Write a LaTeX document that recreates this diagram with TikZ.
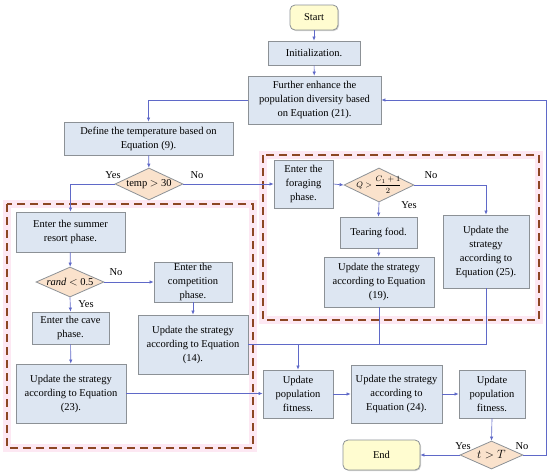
\documentclass[tikz,border=0pt]{standalone}
\usepackage{fontspec}
\setmainfont{Liberation Serif}
\usetikzlibrary{shapes.geometric,arrows.meta,shadows}
\definecolor{boxfill}{RGB}{221,230,242}
\definecolor{boxdraw}{RGB}{140,145,150}
\definecolor{dmfill}{RGB}{250,226,204}
\definecolor{termfill}{RGB}{255,252,208}
\definecolor{arr}{RGB}{95,105,200}
\definecolor{dashcol}{RGB}{140,70,35}
\definecolor{glow}{RGB}{253,232,243}
\tikzset{
  x=1pt,y=-1pt,
  every node/.style={font=\fontsize{10.5}{14}\selectfont},
  pbox/.style={draw=boxdraw,fill=boxfill,line width=0.8pt,align=center,inner sep=1pt,
    drop shadow={shadow xshift=1pt,shadow yshift=-1pt,opacity=0.35,fill=gray}},
  term/.style={pbox,fill=termfill,rounded corners=5pt},
  dm/.style={shape=diamond,draw=boxdraw,fill=dmfill,line width=0.8pt,inner sep=0pt,aspect=2},
  conn/.style={draw=arr,line width=0.65pt,-{Latex[length=4pt,width=3.5pt]}},
  line/.style={draw=arr,line width=0.65pt},
  lab/.style={font=\fontsize{10.5}{12}\selectfont,inner sep=0pt},
  dashbox/.style={draw=dashcol,line width=1.5pt,dash pattern=on 8pt off 5pt},
  glowbox/.style={draw=glow,line width=8pt},
}
\begin{document}
\begin{tikzpicture}
\useasboundingbox (0,0) rectangle (550,475);
% group frames
\draw[glowbox] (7,204) rectangle (253,448);
\draw[glowbox] (263,155) rectangle (539,320);
\draw[dashbox] (7,204) rectangle (253,448);
\draw[dashbox] (263,155) rectangle (539,320);

\node[term,minimum width=48,minimum height=25] (start) at (314,17.5) {Start};
\node[pbox,minimum width=92,minimum height=24] (init) at (314,53) {Initialization.};
\node[pbox,minimum width=133,minimum height=48] (enh) at (314.5,100) {Further enhance the\\population diversity based\\on Equation (21).};
\node[pbox,minimum width=169,minimum height=33] (deft) at (148.5,138.5) {Define the temperature based on\\Equation (9).};
\node[dm,minimum width=68,minimum height=32,label={center:temp $>$ 30}] (temp) at (149,184) {};
\node[pbox,minimum width=109,minimum height=40] (summer) at (70.5,232) {Enter the summer\\resort phase.};
\node[dm,minimum width=68,minimum height=30,label={center:\textit{rand} $<$ 0.5}] (rand) at (70,282) {};
\node[pbox,minimum width=78,minimum height=40] (comp) at (193,282) {Enter the\\competition\\phase.};
\node[pbox,minimum width=77,minimum height=32] (cave) at (70.5,328) {Enter the cave\\phase.};
\node[pbox,minimum width=110,minimum height=59] (u14) at (193,344.5) {Update the strategy\\according to Equation\\(14).};
\node[pbox,minimum width=110,minimum height=59] (u23) at (71,393.5) {Update the strategy\\according to Equation\\(23).};
\node[pbox,minimum width=59,minimum height=48] (forag) at (303.5,184) {Enter the\\foraging\\phase.};
\node[dm,minimum width=70,minimum height=34,label={center:{\fontsize{8}{9}\selectfont$Q>\displaystyle\frac{C_1+1}{2}$}}] (qd) at (379,185) {};
\node[pbox,minimum width=77,minimum height=31] (tear) at (378.5,232.5) {Tearing food.};
\node[pbox,minimum width=110,minimum height=50] (u19) at (379,282) {Update the strategy\\according to Equation\\(19).};
\node[pbox,minimum width=86,minimum height=73] (u25) at (486,251.5) {Update the\\strategy\\according to\\Equation (25).};
\node[pbox,minimum width=70,minimum height=48] (fit1) at (298,394) {Update\\population\\fitness.};
\node[pbox,minimum width=91,minimum height=58] (u24) at (396.5,394) {Update the strategy\\according to\\Equation (24).};
\node[pbox,minimum width=66,minimum height=48] (fit2) at (492,394) {Update\\population\\fitness.};
\node[dm,minimum width=63,minimum height=28,label={center:{\fontsize{13}{14}\selectfont$t>T$}}] (tT) at (491.5,455) {};
\node[term,minimum width=77,minimum height=30] (end) at (381.5,455) {End};

% labels
\node[lab] (y1) at (113,175) {Yes};
\node[lab] (n1) at (197,175) {No};
\node[lab] (n2) at (116,272) {No};
\node[lab] (y2) at (86,304) {Yes};
\node[lab] (n3) at (431,175) {No};
\node[lab] (y3) at (409,205) {Yes};
\node[lab] (y4) at (463,446) {Yes};
\node[lab] (n4) at (522,446) {No};

% connectors
\draw[conn] (start) -- (init);
\draw[conn] (init) -- (enh);
\draw[conn] (enh.west) -| (deft.north);
\draw[conn] (deft) -- (temp);
\draw[conn] (temp.west) -| (summer.north);
\draw[conn] (temp.east) -- (forag.west);
\draw[conn] (summer) -- (rand);
\draw[conn] (rand.east) -- (comp.west);
\draw[conn] (rand.south) -- (cave.north);
\draw[conn] (comp) -- (u14);
\draw[conn] (cave) -- (u23);
\draw[conn] (u23.east) -- (u23.east -| fit1.west);
\draw[conn] (forag.east) -- (qd.west);
\draw[conn] (qd.east) -| (u25.north);
\draw[conn] (qd.south) -- (tear.north);
\draw[conn] (tear) -- (u19);
\coordinate (jr) at (u25.south |- u14.east);
\draw[line] (u14.east) -- (jr);
\draw[line] (u19.south) -- (u19.south |- u14.east);
\draw[line] (u25.south) -- (jr);
\draw[conn] (fit1.north |- u14.east) -- (fit1.north);
\draw[conn] (fit1.east) -- (u24.west);
\draw[conn] (u24.east) -- (fit2.west);
\draw[conn] (fit2.south) -- (tT.north);
\draw[conn] (tT.west) -- (end.east);
\coordinate (loop) at (546,455);
\draw[conn] (tT.east) -- (loop) |- (enh.east);
\end{tikzpicture}
\end{document}
